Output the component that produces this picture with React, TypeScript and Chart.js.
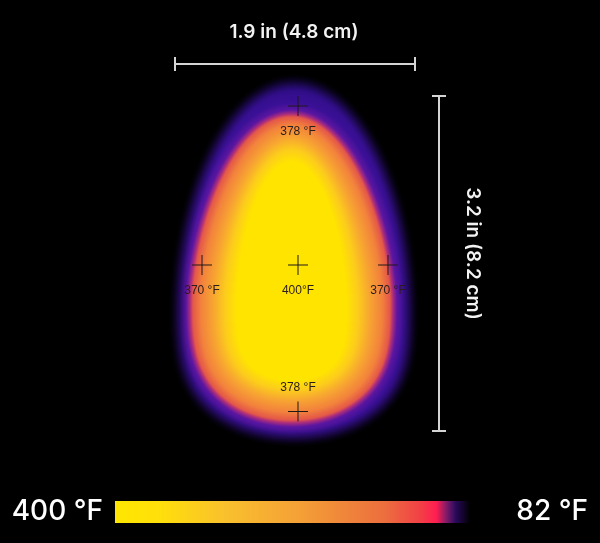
import React, { useEffect, useRef } from "react";
import { Chart, registerables } from "chart.js";

Chart.register(...registerables);

// ---------- data (units: cm, origin at the centre measuring spot) ----------
const spotLabels = ["378 °F", "370 °F", "400°F", "370 °F", "378 °F"];
const spotX = [0, -1.92, 0, 1.8, 0];
const spotY = [3.18, 0, 0, 0, -2.93];
const spotLabelBelow = [true, true, true, true, false];

const widthLabel = "1.9 in (4.8 cm)";
const heightLabel = "3.2 in (8.2 cm)";
const widthRuleX = [-2.46, 2.34];
const widthRuleY = [4.02, 4.02];
const heightRuleX = [2.82, 2.82];
const heightRuleY = [3.38, -3.32];

const scaleEndLabels = ["400 °F", "82 °F"];
const scaleStops = [0, 0.12, 0.32, 0.52, 0.76, 0.86, 0.905, 0.935, 0.96, 1];
const scaleColors = ["#ffe600", "#ffe00a", "#f9bf2e", "#f4a036", "#ec6e3e", "#f24046", "#ff1e50", "#7a1a6a", "#28095a", "#000000"];

// egg hot core & cool halo: centre x, widest y, half width, top half-height, bottom half-height, top exp, bottom exp
const coreEgg = [-0.13, -0.72, 1.97, 3.68, 2.38, 1.65, 3.0];
const haloEgg = [-0.08, -0.9, 2.4, 4.62, 2.64, 1.9, 3.0];

// core colour ramp by signed distance (px) to core edge
const coreRampPos = [-44, -32, -20, -8, 0, 3, 7, 14, 40];
const coreRampCol = [
  [255, 228, 0], [252, 204, 28], [247, 164, 50], [242, 130, 60], [228, 88, 72],
  [172, 45, 124], [92, 22, 160], [58, 16, 150], [38, 11, 122],
];

function ramp(d: number, pos: number[], col: number[][]) {
  if (d <= pos[0]) return col[0];
  for (let i = 1; i < pos.length; i++) {
    if (d <= pos[i]) {
      const t = (d - pos[i - 1]) / (pos[i] - pos[i - 1]);
      const a = col[i - 1], b = col[i];
      return [a[0] + (b[0] - a[0]) * t, a[1] + (b[1] - a[1]) * t, a[2] + (b[2] - a[2]) * t];
    }
  }
  return col[col.length - 1];
}

function eggPx(e: number[], xs: any, ys: any) {
  const x0 = xs.getPixelForValue(0);
  const y0 = ys.getPixelForValue(0);
  return {
    cx: xs.getPixelForValue(e[0]),
    y0: ys.getPixelForValue(e[1]),
    a: Math.abs(xs.getPixelForValue(e[2]) - x0),
    bt: Math.abs(y0 - ys.getPixelForValue(e[3])),
    bb: Math.abs(y0 - ys.getPixelForValue(e[4])),
    nt: e[5],
    nb: e[6],
  };
}

function rho(e: any, x: number, y: number) {
  const dx = (x - e.cx) / e.a;
  const dy = y - e.y0;
  const u = dy < 0 ? -dy / e.bt : dy / e.bb;
  return Math.sqrt(dx * dx + Math.pow(u, dy < 0 ? e.nt : e.nb));
}
function dist(e: any, x: number, y: number) {
  const r = rho(e, x, y);
  const gx = (rho(e, x + 1, y) - rho(e, x - 1, y)) / 2;
  const gy = (rho(e, x, y + 1) - rho(e, x, y - 1)) / 2;
  const g = Math.hypot(gx, gy) || 1e-6;
  return (r - 1) / g;
}

const thermalPlugin = {
  id: "thermal",
  beforeDraw(chart: any) {
    const ctx = chart.ctx;
    ctx.save();
    ctx.fillStyle = "#000";
    ctx.fillRect(0, 0, chart.width, chart.height);
    ctx.restore();
  },
  beforeDatasetsDraw(chart: any) {
    const xs = chart.scales.x, ys = chart.scales.y;
    const core = eggPx(coreEgg, xs, ys);
    const halo = eggPx(haloEgg, xs, ys);
    const W = chart.width, H = chart.height;
    const off = document.createElement("canvas");
    off.width = W; off.height = H;
    const octx = off.getContext("2d")!;
    const img = octx.createImageData(W, H);
    const px = img.data;
    const xMin = Math.max(0, Math.floor(halo.cx - halo.a - 30));
    const xMax = Math.min(W, Math.ceil(halo.cx + halo.a + 30));
    const yMin = Math.max(0, Math.floor(halo.y0 - halo.bt - 30));
    const yMax = Math.min(H, Math.ceil(halo.y0 + halo.bb + 30));
    for (let y = yMin; y < yMax; y++) {
      for (let x = xMin; x < xMax; x++) {
        const sx = x + 0.5, sy = y + 0.5;
        const dOut = dist(halo, sx, sy);
        if (dOut > 8) continue;
        const dIn = dist(core, sx, sy);
        const c = ramp(dIn, coreRampPos, coreRampCol);
        let t = (6 - dOut) / 20; // 1 inside, 0 outside
        t = Math.max(0, Math.min(1, t));
        t = t * t * (3 - 2 * t);
        const k = (y * W + x) * 4;
        px[k] = c[0] * t; px[k + 1] = c[1] * t; px[k + 2] = c[2] * t; px[k + 3] = 255;
      }
    }
    octx.putImageData(img, 0, 0);
    chart.ctx.drawImage(off, 0, 0);
  },
  afterDatasetsDraw(chart: any) {
    const ctx = chart.ctx;
    const xs = chart.scales.x, ys = chart.scales.y;
    ctx.save();
    // spot labels
    ctx.font = "12px 'Liberation Sans', Arial, sans-serif";
    ctx.fillStyle = "#2a1c1c";
    ctx.textAlign = "center";
    ctx.textBaseline = "middle";
    spotLabels.forEach((lab, i) => {
      const x = xs.getPixelForValue(spotX[i]);
      const y = ys.getPixelForValue(spotY[i]);
      ctx.fillText(lab, x, y + (spotLabelBelow[i] ? 25.5 : -23.5));
    });

    // dimension texts
    ctx.fillStyle = "#f2f2f2";
    ctx.font = "600 19px Inter, 'Open Sans', sans-serif";
    const wx = (xs.getPixelForValue(widthRuleX[0]) + xs.getPixelForValue(widthRuleX[1])) / 2;
    const wy = ys.getPixelForValue(widthRuleY[0]);
    ctx.fillText(widthLabel, wx - 1, wy - 32);
    const hx = xs.getPixelForValue(heightRuleX[0]);
    const hy = (ys.getPixelForValue(heightRuleY[0]) + ys.getPixelForValue(heightRuleY[1])) / 2;
    ctx.save();
    ctx.translate(hx + 34, hy - 10);
    ctx.rotate(Math.PI / 2);
    ctx.fillText(heightLabel, 0, 0);
    ctx.restore();

    // colour scale bar
    const bl = xs.getPixelForValue(-3.66), br = xs.getPixelForValue(3.44);
    const bt = ys.getPixelForValue(-4.72), bb = ys.getPixelForValue(-5.16);
    const g = ctx.createLinearGradient(bl, 0, br, 0);
    scaleStops.forEach((s, i) => g.addColorStop(s, scaleColors[i]));
    ctx.fillStyle = g;
    ctx.fillRect(bl, bt, br - bl, bb - bt);

    ctx.fillStyle = "#ffffff";
    ctx.font = "500 28px Inter, 'Open Sans', sans-serif";
    ctx.textBaseline = "middle";
    ctx.textAlign = "right";
    ctx.fillText(scaleEndLabels[0], bl - 12, (bt + bb) / 2);
    ctx.fillText(scaleEndLabels[1], chart.width - 12, (bt + bb) / 2);
    ctx.restore();
  },
};

export default function App() {
  const ref = useRef<HTMLCanvasElement>(null);
  useEffect(() => {
    document.body.style.margin = "0";
    document.body.style.background = "#000";
    const canvas = ref.current!;
    const ruleStyle = {
      showLine: true,
      borderColor: "#d4d4d4",
      borderWidth: 2,
      pointStyle: "line" as const,
      pointRadius: 7,
      pointBorderColor: "#d4d4d4",
      pointBorderWidth: 2,
    };
    const chart = new Chart(canvas, {
      type: "scatter",
      data: {
        datasets: [
          {
            label: "spots",
            data: spotX.map((x, i) => ({ x, y: spotY[i] })),
            pointStyle: "cross",
            pointRadius: 10,
            pointBorderColor: "#1e1818",
            borderColor: "#1e1818",
            pointBorderWidth: 1,
          },
          {
            label: "width",
            data: widthRuleX.map((x, i) => ({ x, y: widthRuleY[i] })),
            ...ruleStyle,
            pointRotation: 90,
          } as any,
          {
            label: "height",
            data: heightRuleX.map((x, i) => ({ x, y: heightRuleY[i] })),
            ...ruleStyle,
            pointRotation: 0,
          } as any,
        ],
      },
      options: {
        responsive: false,
        animation: false,
        events: [],
        layout: { padding: 0, autoPadding: false },
        scales: {
          x: { type: "linear", display: false, min: -5.96, max: 6.04 },
          y: { type: "linear", display: false, min: -5.56, max: 5.3 },
        },
        plugins: { legend: { display: false }, tooltip: { enabled: false } },
      },
      plugins: [thermalPlugin],
    });
    return () => chart.destroy();
  }, []);
  return (
    <div style={{ width: 600, height: 543, background: "#000" }}>
      <canvas ref={ref} width={600} height={543} style={{ display: "block" }} />
    </div>
  );
}
